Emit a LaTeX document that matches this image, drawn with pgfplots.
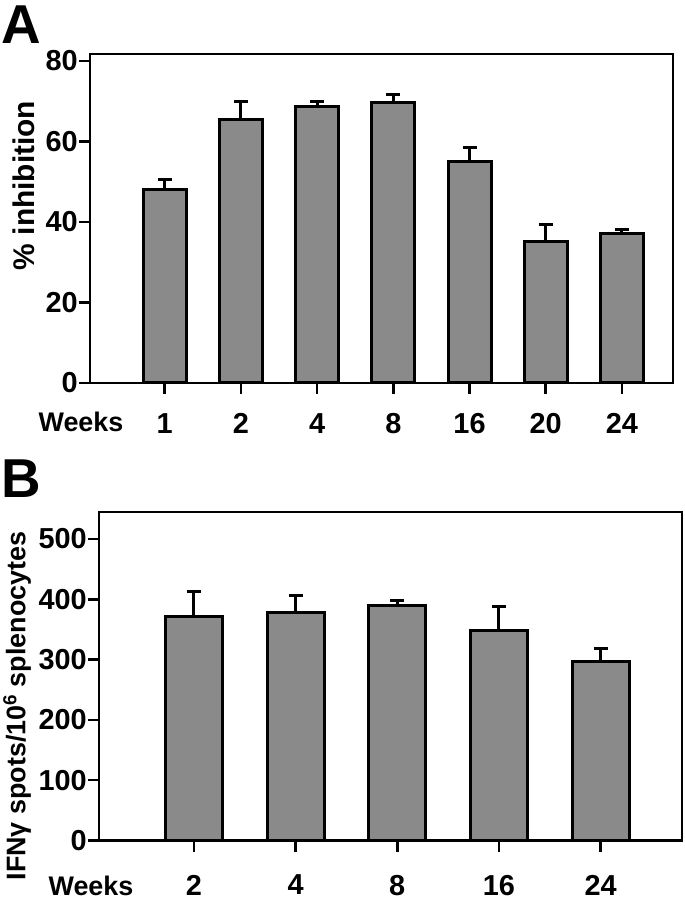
\documentclass[border=0pt]{standalone}
\usepackage{fontspec}
\setmainfont{Liberation Sans}
\usepackage{pgfplots}
\pgfplotsset{compat=1.18}

\definecolor{barfill}{RGB}{138,138,138}
\newcommand\tickfont{\fontsize{29}{32}\selectfont\bfseries}
\newcommand\weekfont{\fontsize{27}{30}\selectfont\bfseries}

\pgfplotsset{
  panel/.style={
    scale only axis, width=583bp, anchor=south west,
    axis line style={line width=2.5bp},
    tick align=outside, xtick pos=bottom, ytick pos=left,
    major tick length=11bp,
    major tick style={black, line width=2.5bp},
    tick label style={font=\tickfont},
    /pgf/number format/assume math mode=true,
    yticklabel style={inner xsep=1bp},
    ybar, ymin=0, xtick=data,
  },
  bars/.style={fill=barfill, draw=black, line width=3bp,
    error bars/.cd, y dir=plus, y explicit,
    error bar style={black, line width=3bp},
    error mark options={black, line width=3bp, mark size=7bp, rotate=90}},
}

\begin{document}
\begin{tikzpicture}
\path[use as bounding box] (0,0) rectangle (685bp,900bp);

% panel A
\begin{axis}[panel, at={(90bp,517bp)}, height=329bp,
    bar width=43bp,
    xmin=-0.98, xmax=6.67,
    ymax=81.7, ytick={0,20,40,60,80},
    xticklabels={1,2,4,8,16,20,24},
    xticklabel style={yshift=-16bp}]
  \addplot[bars] coordinates {
    (0,48.1) +- (0,2.5)
    (1,65.5) +- (0,4.5)
    (2,68.6) +- (0,1.4)
    (3,69.6) +- (0,2.1)
    (4,54.9) +- (0,3.6)
    (5,35.1) +- (0,4.3)
    (6,37.1) +- (0,1.1)
  };
\end{axis}

% panel B
\begin{axis}[panel, at={(99bp,59.5bp)}, height=328.5bp,
    bar width=57bp,
    xmin=-0.933, xmax=4.80,
    ymax=544.8, ytick={0,100,200,300,400,500},
    xticklabels={2,4,8,16,24},
    xticklabel style={yshift=-20bp}]
  \addplot[bars] coordinates {
    (0,371) +- (0,42)
    (1,378) +- (0,28)
    (2,390.5) +- (0,8)
    (3,349) +- (0,39)
    (4,296.5) +- (0,22)
  };
\end{axis}

\node[anchor=north west, inner sep=0, font=\fontsize{55}{55}\selectfont\bfseries] at (1bp,894bp) {A};
\node[anchor=north west, inner sep=0, font=\fontsize{55}{55}\selectfont\bfseries] at (1bp,440bp) {B};

\node[anchor=base, font=\weekfont] at (81bp,468.3bp) {Weeks};
\node[anchor=base, font=\weekfont] at (91bp,5bp) {Weeks};

\node[rotate=90, font=\fontsize{30}{34}\selectfont\bfseries] at (24bp,714.5bp) {\% inhibition};
\node[rotate=90, font=\fontsize{27}{31}\selectfont\bfseries] at (17bp,194bp) {IFNγ spots/10\textsuperscript{6} splenocytes};
\end{tikzpicture}
\end{document}
